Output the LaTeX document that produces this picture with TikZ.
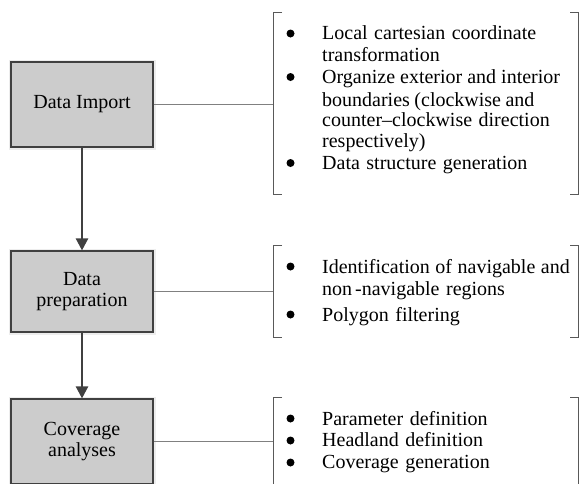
\documentclass[tikz,border=0pt]{standalone}
\usepackage{fontspec}
\setmainfont{Liberation Serif}
\usetikzlibrary{arrows.meta}
\newcommand{\wideskip}{\spaceskip=6.5pt\relax}
\begin{document}
\begin{tikzpicture}[x=1pt,y=-1pt,
  procbox/.style={draw=black!75, line width=1.1pt, fill=black!20, minimum width=142pt,
    inner sep=0pt, align=center, font=\fontsize{20}{21}\selectfont,
    preaction={draw=black!7, line width=5pt}},
  flow/.style={draw=black!75, line width=2.3pt, -{Triangle[length=12pt,width=12pt]}},
  link/.style={draw=black!50, line width=1pt},
  brk/.style={draw=black!65, line width=1pt},
  item/.style={anchor=base west, inner sep=0pt, font=\fontsize{20}{22}\selectfont\wideskip},
  dot/.style={fill=black}
]
\useasboundingbox (0,0) rectangle (579,483);

% process boxes
\node[procbox, minimum height=85pt] (imp) at (82,104.5) {Data Import};
\node[procbox, minimum height=81pt] (prep) at (82,291.5) {Data\\preparation};
\node[procbox, minimum height=85pt] (cov) at (82,441.5) {Coverage\\analyses};

% flow arrows
\draw[flow] (imp.south) -- (prep.north);
\draw[flow] (prep.south) -- (cov.north);

% bracket joints
\coordinate (j1) at (273,104.5);
\coordinate (j2) at (273,291.5);
\coordinate (j3) at (273,441.5);
\draw[link] (imp.east) -- (j1);
\draw[link] (prep.east) -- (j2);
\draw[link] (cov.east) -- (j3);

% brackets
\draw[brk] (282,12) -- (273,12) -- (273,194) -- (282,194);
\draw[brk] (570,12) -- (578,12) -- (578,194) -- (570,194);
\draw[brk] (282,245) -- (273,245) -- (273,337) -- (282,337);
\draw[brk] (570,245) -- (578,245) -- (578,337) -- (570,337);
\draw[brk] (282,397) -- (273,397) -- (273,490);
\draw[brk] (570,397) -- (578,397) -- (578,490);

% group 1
\fill[dot] (290.5,33.5) circle (4);
\fill[dot] (290.5,77) circle (4);
\fill[dot] (290.5,163) circle (4);
\node[item] (t11) at (322,39.5) {Local cartesian coordinate};
\node[item] (t12) at (322,61.5) {transformation};
\node[item] (t13) at (322,83) {\spaceskip=5pt\relax Organize exterior and interior};
\node[item] (t14) at (322,106) {\spaceskip=4.5pt\relax boundaries (clockwise and};
\node[item] (t15) at (322,126.5) {counter–clockwise direction};
\node[item] (t16) at (322,147) {respectively)};
\node[item] (t17) at (322,169) {Data structure generation};

% group 2
\fill[dot] (290.5,266.5) circle (4);
\fill[dot] (290.5,314.5) circle (4);
\node[item] (t21) at (322,273) {\spaceskip=5.5pt\relax Identification of navigable and};
\node[item] (t22) at (322,295.5) {non\kern3pt-navigable regions};
\node[item] (t23) at (322,321) {Polygon filtering};

% group 3
\fill[dot] (290.5,418.5) circle (4);
\fill[dot] (290.5,440.5) circle (4);
\fill[dot] (290.5,462.5) circle (4);
\node[item] (t31) at (322,425.5) {Parameter definition};
\node[item] (t32) at (322,446.7) {Headland definition};
\node[item] (t33) at (322,468.5) {Coverage generation};
\end{tikzpicture}
\end{document}
